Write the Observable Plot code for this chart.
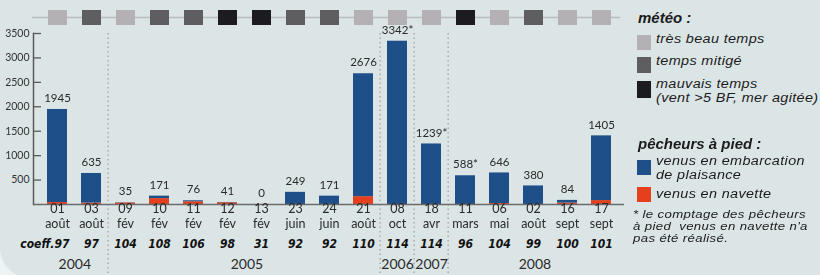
<!DOCTYPE html>
<html><head><meta charset="utf-8">
<script src="https://cdn.jsdelivr.net/npm/d3@7"></script>
<script src="https://cdn.jsdelivr.net/npm/@observablehq/plot@0.6"></script>
<style>
html,body{margin:0;padding:0;width:820px;height:275px;overflow:hidden;background:#eef3f3;}
#panel{position:absolute;left:0;top:-30px;width:860px;height:308px;background:#dbe5e6;border-bottom-left-radius:30px;}
#chart{position:absolute;left:0;top:0;}
.lg{position:absolute;font-family:"Liberation Sans",Arial,sans-serif;font-style:italic;color:#1b1b1b;white-space:nowrap;font-size:12px;line-height:13.5px;letter-spacing:0.3px;transform:scaleX(1.2);transform-origin:0 0;}
.hd{font-weight:bold;font-size:15px;line-height:15px;letter-spacing:0;transform:none;}
.fn{font-size:11px;line-height:12.3px;}
.sw{position:absolute;width:14px;}
</style></head>
<body>
<div id="panel"></div>
<div id="chart"></div>
<div id="legend"></div>
<script>
// ---- data ----
const days   = ["01","03","09","10","11","12","13","23","24","21","08","18","11","06","02","16","17"];
const months = ["août","août","fév","fév","fév","fév","fév","juin","juin","août","oct","avr","mars","mai","août","sept","sept"];
const years  = [2004,2004,2005,2005,2005,2005,2005,2005,2005,2005,2006,2007,2008,2008,2008,2008,2008];
const coeffs = [97,97,104,108,106,98,31,92,92,110,114,114,96,104,99,100,101];
const totals = [1945,635,35,171,76,41,0,249,171,2676,3342,1239,588,646,380,84,1405];
const navette= [40,30,30,120,55,35,0,0,0,160,0,0,0,20,0,30,80];
const notCounted = [false,false,false,false,false,false,false,false,false,false,true,true,true,false,false,false,false];
const meteo  = ["beau","mitige","beau","mitige","mitige","mauvais","mauvais","mitige","mitige","beau","beau","beau","mauvais","beau","mitige","beau","beau"];
const meteoKeys   = ["beau","mitige","mauvais"];
const meteoLabels = ["très beau temps","temps mitigé","mauvais temps\n(vent >5 BF, mer agitée)"];
const meteoColors = ["#b3b1b4","#5e5e61","#1c1b1f"];
const yTicks = [500,1000,1500,2000,2500,3000,3500];
const yMax = 3500;
const BLUE = "#1f4f89", RED = "#e5401d";

const rows = days.map((d,i)=>({i, day:d, month:months[i], year:years[i], coeff:coeffs[i],
  total:totals[i], navette:navette[i], meteo:meteo[i],
  label: totals[i] + (notCounted[i] ? "*" : "")}));

// ---- layout ----
const W=820,H=275,mL=33,mR=196,mT=33,mB=71;
const pI=0.424,pO=0.23;
const n=rows.length;
const step=(W-mL-mR)/(n-pI+2*pO);
const frameW=W-mL-mR;

const seps = rows.filter((d,i)=>i>0 && years[i]!==years[i-1]).map(d=>d.i);
const yearGroups = d3.groups(rows, d=>d.year).map(([y,g])=>({year:y, first:g[0].i, last:g[g.length-1].i}));

const rectSym = {draw(ctx){ const w=19,h=15; ctx.rect(-w/2,-h/2,w,h); }};
const txt = "#2a2a2a";
const narrow = "'Liberation Sans Narrow','DejaVu Sans Condensed',sans-serif";

const marks = [
  Plot.ruleX(seps, {x:d=>d, dx:-step/2, insetBottom:-(mB+2), stroke:"#9ea3a5", strokeWidth:1.3, strokeDasharray:"1.5,3"}),
  Plot.ruleY([yMax], {dy:-16, insetLeft:-1, insetRight:4, stroke:"#b9bbbc", strokeWidth:1.5}),
  Plot.dot(rows, {x:"i", frameAnchor:"top", dy:-16, symbol:rectSym, r:8, fill:"meteo"}),
  Plot.ruleY(yTicks, {insetRight:frameW-8, stroke:"#5a5a5a", strokeWidth:1.3}),
  Plot.axisY({ticks:yTicks, tickSize:0, tickPadding:4, fontSize:10.5, label:null, tickFormat:d=>String(d), fill:"#333"}),
  Plot.frame({anchor:"left", stroke:"#5a5a5a", strokeWidth:1.5}),
  Plot.barY(rows, {x:"i", y1:()=>0, y2:"navette", fill:RED}),
  Plot.barY(rows, {x:"i", y1:"navette", y2:"total", fill:BLUE}),
  Plot.ruleY([0], {stroke:"#6b6b6b", strokeWidth:1.6}),
  Plot.text(rows, {x:"i", y:"total", text:"label", dy:-11, fontSize:11.5, fill:txt}),
  Plot.text(rows, {x:"i", text:"day", frameAnchor:"bottom", dy:8.5, fontSize:12.5, fill:txt}),
  Plot.text(rows, {x:"i", text:"month", frameAnchor:"bottom", dy:23, fontSize:12.5, fill:txt}),
  Plot.text(rows.slice(1), {x:"i", text:d=>String(d.coeff), frameAnchor:"bottom", dy:43, fontSize:12, fontWeight:"bold", fontStyle:"italic", fontFamily:narrow, fill:"#111"}),
  Plot.text(rows.slice(0,1), {x:"i", text:d=>"coeff."+d.coeff, frameAnchor:"bottom", dy:43, dx:12, textAnchor:"end", fontSize:12, fontWeight:"bold", fontStyle:"italic", fontFamily:narrow, fill:"#111"}),
  ...yearGroups.map(g=>Plot.text([g], {x:"first", text:d=>String(d.year), frameAnchor:"bottom", dy:64, dx:(g.last-g.first)/2*step, fontSize:14, fill:txt}))
];

const chart = Plot.plot({
  width:W, height:H, marginLeft:mL, marginRight:mR, marginTop:mT, marginBottom:mB,
  style:{background:"transparent", fontFamily:"Lato,'Noto Sans',sans-serif", overflow:"visible"},
  x:{type:"band", domain:rows.map(d=>d.i), paddingInner:pI, paddingOuter:pO, axis:null},
  y:{domain:[0,yMax], axis:null},
  color:{domain:meteoKeys, range:meteoColors},
  marks
});
document.getElementById("chart").appendChild(chart);

// ---- legend ----
const lg = document.getElementById("legend");
function add(html, css, cls){ const e=document.createElement("div"); e.className=cls; e.style.cssText=css; e.innerHTML=html; lg.appendChild(e); }
add("météo :", "left:638px;top:9.5px;", "lg hd");
const swTops=[35,57,81], swH=[15,16,17], txTops=[33.25,55.25,78];
meteoKeys.forEach((k,i)=>{
  add("", `left:637px;top:${swTops[i]}px;height:${swH[i]}px;background:${meteoColors[i]};`, "sw");
  add(meteoLabels[i].replace("\n","<br>"), `left:656px;top:${txTops[i]}px;`, "lg");
});
add("pêcheurs à pied :", "left:638px;top:135.5px;", "lg hd");
add("", `left:637px;top:160px;height:15px;background:${BLUE};`, "sw");
add("venus en embarcation<br>de plaisance", "left:656px;top:155.25px;", "lg");
add("", `left:637px;top:187px;height:15px;background:${RED};`, "sw");
add("venus en navette", "left:656px;top:188.25px;", "lg");
add("* le comptage des pêcheurs<br>à pied&nbsp; venus en navette n'a<br>pas été réalisé.", "left:633px;top:207.85px;", "lg fn");
</script>
</body></html>
